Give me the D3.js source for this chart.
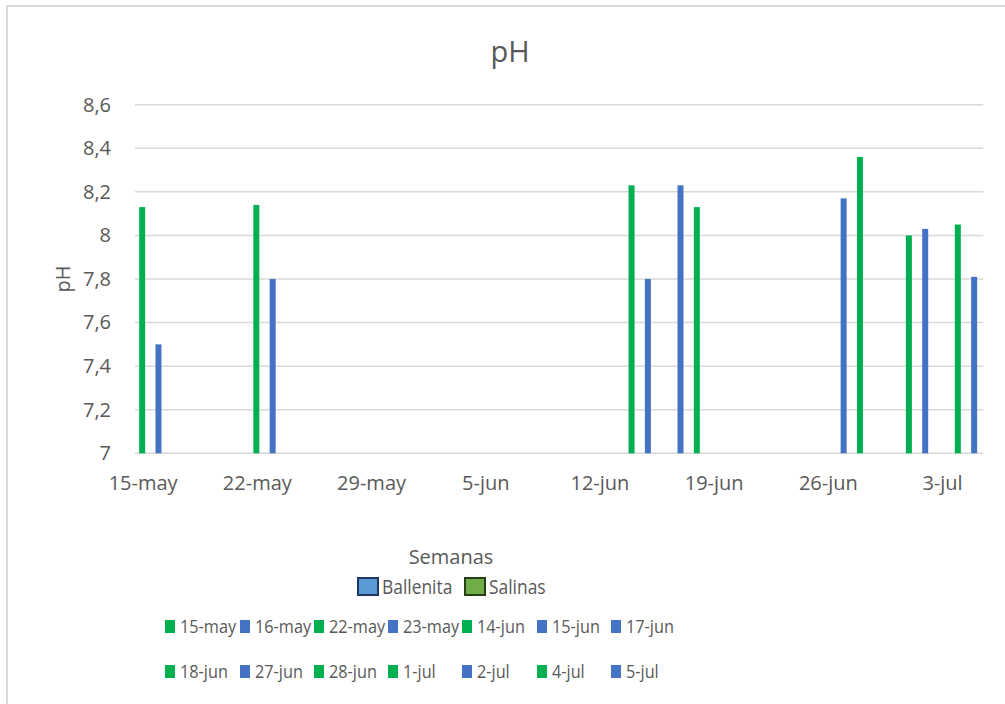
<!DOCTYPE html>
<html><head><meta charset="utf-8">
<script src="https://cdn.jsdelivr.net/npm/d3@7"></script>
<style>body{margin:0;background:#fff;} svg{display:block;font-family:"Open Sans",sans-serif;}</style>
</head><body><svg id="c" width="1005" height="704"></svg>
<script>
const dateLabels = ["15-may","16-may","22-may","23-may","14-jun","15-jun","17-jun","18-jun","27-jun","28-jun","1-jul","2-jul","4-jul","5-jul"];
const seriesOf = ["Salinas","Ballenita","Salinas","Ballenita","Salinas","Ballenita","Ballenita","Salinas","Ballenita","Salinas","Salinas","Ballenita","Salinas","Ballenita"];
const phValues = [8.13,7.50,8.14,7.80,8.23,7.80,8.23,8.13,8.17,8.36,8.00,8.03,8.05,7.81];
const tickLabels = ["15-may","22-may","29-may","5-jun","12-jun","19-jun","26-jun","3-jul"];
const yTicks = [7,7.2,7.4,7.6,7.8,8,8.2,8.4,8.6];
const seriesNames = ["Ballenita","Salinas"];

const colors = {Salinas:"#00b050", Ballenita:"#4472c4"};
const months = {may:4, jun:5, jul:6};
const parse = s => { const [d,m] = s.split("-"); return new Date(2019, months[m], +d); };

const svg = d3.select("#c");
const txt = "#595959";
svg.append("rect").attr("x",7).attr("y",6).attr("width",1010).attr("height",710)
  .attr("fill","#fff").attr("stroke","#d9d9d9").attr("stroke-width",2);

const L=135, R=983.3, T=104.7, B=453.3;
const days = d3.timeDay.range(parse("15-may"), d3.timeDay.offset(parse("5-jul"),1));
const x = d3.scaleBand().domain(days.map(d=>+d)).range([L,R]).padding(0);
const y = d3.scaleLinear().domain([7,8.6]).range([B,T]);

// grid
svg.append("g").selectAll("line").data(yTicks).join("line")
  .attr("x1",L).attr("x2",R).attr("y1",d=>y(d)).attr("y2",d=>y(d))
  .attr("stroke","#d9d9d9").attr("stroke-width",1.5);

// y axis
const fmt = v => String(+v.toFixed(1)).replace(".",",");
const ya = svg.append("g").attr("transform",`translate(${L},0)`)
  .call(d3.axisLeft(y).tickValues(yTicks).tickFormat(fmt).tickSize(0).tickPadding(24));
ya.select(".domain").remove();
ya.selectAll("text").attr("font-size",20).attr("fill",txt).attr("font-family","Open Sans");

// bars
const bw = 6;
svg.append("g").selectAll("rect").data(phValues).join("rect")
  .attr("x",(d,i)=>x(+parse(dateLabels[i])) + x.bandwidth()/2 - bw/2 - 1)
  .attr("width",bw)
  .attr("y",d=>y(d)).attr("height",d=>B-y(d))
  .attr("fill",(d,i)=>colors[seriesOf[i]]);

// x axis
const xa = svg.append("g").attr("transform",`translate(0,${B})`)
  .call(d3.axisBottom(x).tickValues(tickLabels.map(s=>+parse(s)))
    .tickFormat((d,i)=>tickLabels[i]).tickSize(0).tickPadding(23));
xa.select(".domain").remove();
xa.selectAll("text").attr("font-size",20).attr("fill",txt).attr("font-family","Open Sans");

// title
svg.append("text").attr("x",510).attr("y",62).attr("text-anchor","middle")
  .attr("font-size",29).attr("fill",txt).text("pH");
// y title
svg.append("text").attr("transform","translate(70,279) rotate(-90)").attr("text-anchor","middle")
  .attr("font-size",20).attr("fill",txt).text("pH");
// x title
svg.append("text").attr("x",451).attr("y",564).attr("text-anchor","middle")
  .attr("font-size",20).attr("fill",txt).text("Semanas");

// series legend
const sl = [{x:357,fill:"#5b9bd5",stroke:"#1f3864"},{x:464,fill:"#70ad47",stroke:"#263f17"}];
sl.forEach((s,i)=>{
  const g = svg.append("g");
  g.append("rect").attr("x",s.x+1).attr("y",578).attr("width",20).attr("height",17)
    .attr("fill",s.fill).attr("stroke",s.stroke).attr("stroke-width",2);
  g.append("g").attr("transform",`translate(${s.x+25},594) scale(0.87,1)`)
    .append("text").attr("font-size",20).attr("fill",txt).text(seriesNames[i]);
});

// date legend
const colX = [165,240,314,388,462,537,611];
dateLabels.forEach((lab,i)=>{
  const row = Math.floor(i/7), col = i%7;
  const g = svg.append("g").attr("transform",`translate(${colX[col]},${627+row*45})`);
  g.append("rect").attr("x",0).attr("y",-7).attr("width",10).attr("height",13).attr("fill",colors[seriesOf[i]]);
  g.append("g").attr("transform","translate(15,6) scale(0.88,1)")
    .append("text").attr("font-size",18.5).attr("fill",txt).text(lab);
});
</script></body></html>
